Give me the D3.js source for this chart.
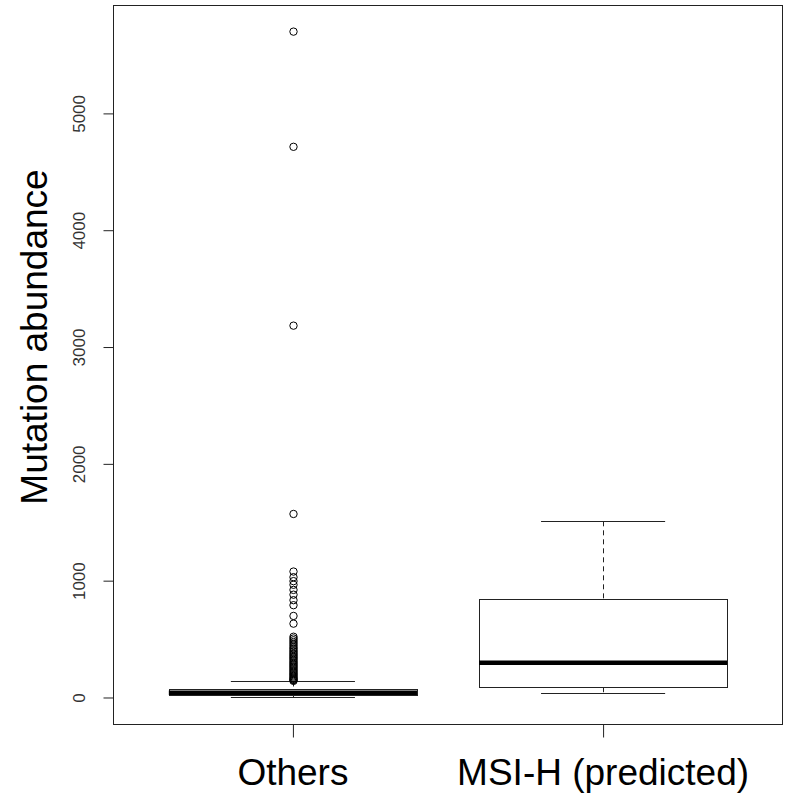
<!DOCTYPE html>
<html lang="en">
<head>
  <meta charset="UTF-8">
  <title>Mutation abundance</title>
  <style>
    body {
      margin: 0;
      background: #fff;
      font-family: "Liberation Sans", Arial, sans-serif;
    }
    svg {
      display: block;
    }
    .frame {
      fill: none;
      stroke: #222;
      stroke-width: 1;
    }
    .box rect {
      fill: none;
      stroke: #222;
      stroke-width: 1;
    }
    .median {
      stroke: #000;
      stroke-width: 4.5;
    }
    .whisker {
      stroke: #222;
      stroke-dasharray: 5,4;
    }
    .cap {
      stroke: #222;
    }
    .outlier {
      fill: none;
      stroke: #000;
      stroke-width: 1;
    }
    .axis--y text {
      font-size: 17px;
      fill: #333;
    }
    .group-label, .axis_legend {
      font-size: 37px;
      fill: #000;
    }
  </style>
  <script src="https://d3js.org/d3.v7.min.js"></script>
</head>
<body>
  <div id="chart"></div>
  <script>
/* global d3 */

var groups = ["Others", "MSI-H (predicted)"];
var q1 = [20, 88];
var medians = [40, 297];
var q3 = [75, 847];
var whiskerLow = [1, 37];
var whiskerHigh = [137, 1508];

// outliers only in the first group
var outliersOthers = [5700, 4714, 3183, 1571, 1078, 1030, 996, 965, 921, 880, 833, 790,
  698, 632, 520, 505, 490, 475, 460, 445, 430, 418, 405, 392, 380, 368, 356, 345,
  334, 322, 310, 298, 287, 276, 265, 254, 243, 232, 221, 210, 200, 190, 180, 170,
  162, 155, 148, 142];
var outliersMsi = [];

var yTicks = [0, 1000, 2000, 3000, 4000, 5000];

var width = 785,
  height = 794,
  margin = {top: 5, right: 2, bottom: 70, left: 113};

var svg = d3.select("#chart")
  .append("svg")
  .attr("width", width)
  .attr("height", height);

var plotRight = width - margin.right,
  plotBottom = height - margin.bottom;

var data = groups.map(function (g, i) {
  return {
    name: g,
    pos: i + 1,
    q1: q1[i],
    median: medians[i],
    q3: q3[i],
    lo: whiskerLow[i],
    hi: whiskerHigh[i],
    out: i === 0 ? outliersOthers : outliersMsi
  };
});

// R style 4% padding on both axes
var yMin = d3.min(whiskerLow),
  yMax = d3.max(outliersOthers.concat(whiskerHigh)),
  yPad = (yMax - yMin) * 0.04;

var y = d3.scaleLinear()
  .domain([yMin - yPad, yMax + yPad])
  .range([plotBottom, margin.top]);

var xPad = (groups.length) * 0.04;
var x = d3.scaleLinear()
  .domain([0.5 - xPad, groups.length + 0.5 + xPad])
  .range([margin.left, plotRight]);

var boxW = x(0.8) - x(0);

svg.append("rect")
  .attr("class", "frame")
  .attr("x", margin.left + 0.5)
  .attr("y", margin.top + 0.5)
  .attr("width", plotRight - margin.left - 1)
  .attr("height", plotBottom - margin.top);

// y axis
var yAxis = svg.append("g")
  .attr("class", "axis--y")
  .attr("transform", "translate(" + (margin.left + 0.5) + ",0)")
  .call(d3.axisLeft(y).tickValues(yTicks).tickSize(10).tickFormat(d3.format("d")));
yAxis.select(".domain").remove();
yAxis.selectAll("line").attr("stroke", "#222");
yAxis.selectAll("text")
  .attr("x", null)
  .attr("dy", null)
  .attr("text-anchor", "middle")
  .attr("transform", "translate(-29,0) rotate(-90)");

svg.append("text")
  .attr("class", "axis_legend")
  .attr("text-anchor", "middle")
  .attr("transform", "translate(47,337) rotate(-90)")
  .text("Mutation abundance");

// x axis
var xAxis = svg.append("g")
  .attr("transform", "translate(0," + (plotBottom + 0.5) + ")")
  .call(d3.axisBottom(x).tickValues(data.map(function (d) { return d.pos; }))
    .tickSize(13).tickFormat(""));
xAxis.select(".domain").remove();
xAxis.selectAll("line").attr("stroke", "#222");

svg.selectAll(".group-label")
  .data(data)
  .enter()
  .append("text")
  .attr("class", "group-label")
  .attr("text-anchor", "middle")
  .attr("x", function (d) { return x(d.pos); })
  .attr("y", 785)
  .text(function (d) { return d.name; });

// boxes
var boxes = svg.selectAll(".box")
  .data(data)
  .enter()
  .append("g")
  .attr("class", "box");

boxes.append("line")
  .attr("class", "whisker")
  .attr("x1", function (d) { return Math.round(x(d.pos)) + 0.5; })
  .attr("x2", function (d) { return Math.round(x(d.pos)) + 0.5; })
  .attr("y1", function (d) { return y(d.hi); })
  .attr("y2", function (d) { return y(d.q3); });

boxes.append("line")
  .attr("class", "whisker")
  .attr("x1", function (d) { return Math.round(x(d.pos)) + 0.5; })
  .attr("x2", function (d) { return Math.round(x(d.pos)) + 0.5; })
  .attr("y1", function (d) { return y(d.q1); })
  .attr("y2", function (d) { return y(d.lo); });

boxes.selectAll(".cap")
  .data(function (d) { return [d.lo, d.hi].map(function (v) { return {pos: d.pos, v: v}; }); })
  .enter()
  .append("line")
  .attr("class", "cap")
  .attr("x1", function (d) { return x(d.pos) - boxW / 4; })
  .attr("x2", function (d) { return x(d.pos) + boxW / 4; })
  .attr("y1", function (d) { return Math.round(y(d.v)) + 0.5; })
  .attr("y2", function (d) { return Math.round(y(d.v)) + 0.5; });

boxes.append("rect")
  .attr("x", function (d) { return Math.round(x(d.pos) - boxW / 2) + 0.5; })
  .attr("y", function (d) { return Math.round(y(d.q3)) + 0.5; })
  .attr("width", Math.round(boxW))
  .attr("height", function (d) { return Math.round(y(d.q1)) - Math.round(y(d.q3)); })
  .attr("fill", "#fff");

boxes.append("line")
  .attr("class", "median")
  .attr("x1", function (d) { return x(d.pos) - boxW / 2; })
  .attr("x2", function (d) { return x(d.pos) + boxW / 2; })
  .attr("y1", function (d) { return y(d.median); })
  .attr("y2", function (d) { return y(d.median); });

boxes.selectAll(".outlier")
  .data(function (d) { return d.out.map(function (v) { return {pos: d.pos, v: v}; }); })
  .enter()
  .append("circle")
  .attr("class", "outlier")
  .attr("cx", function (d) { return Math.round(x(d.pos)) + 0.5; })
  .attr("cy", function (d) { return y(d.v); })
  .attr("r", 3.7);

  </script>
</body>
</html>
